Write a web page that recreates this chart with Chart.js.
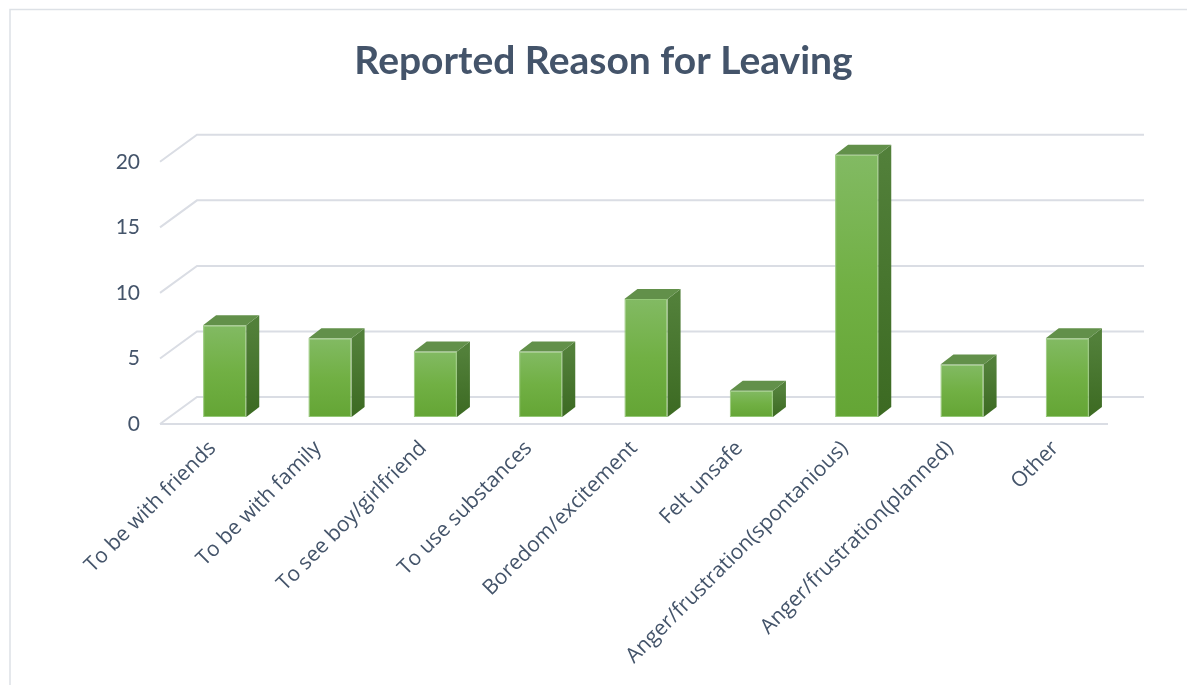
<!DOCTYPE html>
<html>
<head>
<meta charset="utf-8">
<script src="https://cdn.jsdelivr.net/npm/chart.js@4.4.0/dist/chart.umd.min.js"></script>
<style>
  html, body { margin: 0; padding: 0; background: #fff; }
  #wrap { width: 1187px; height: 685px; position: relative; }
</style>
</head>
<body>
<div id="wrap"><canvas id="js--chart1" width="1187" height="685"></canvas></div>
<script>
const reasons = ['To be with friends', 'To be with family', 'To see boy/girlfriend', 'To use substances',
    'Boredom/excitement', 'Felt unsafe', 'Anger/frustration(spontanious)', 'Anger/frustration(planned)', 'Other'];
const counts = [7, 6, 5, 5, 9, 2, 20, 4, 6];
const yTicks = [0, 5, 10, 15, 20];

const txt = '#44546A'
const gridCol = '#DADDE4'
// 3d look: wall depth and where the bars sit inside it
const wallDx = 37, wallDy = -27;
const barDx = 12, barDy = -7;
const sideDx = 13, sideDy = -10;

const ctx = document.getElementById('js--chart1');

const fakeDepth = {
    id: 'fakeDepth',
    beforeDraw(chart) {
        const c = chart.ctx;
        const area = chart.chartArea;
        const y = chart.scales.y;
        c.save();
        // frame of the picture
        c.strokeStyle = '#DDE1E6';
        c.lineWidth = 1.5;
        c.beginPath();
        c.moveTo(10, 685); c.lineTo(10, 9.5); c.lineTo(1187, 9.5);
        c.stroke();
        // walls
        c.strokeStyle = gridCol;
        c.lineWidth = 2;
        yTicks.forEach(function (v) {
            const py = y.getPixelForValue(v);
            c.beginPath();
            c.moveTo(area.left, py);
            c.lineTo(area.left + wallDx, py + wallDy);
            c.lineTo(area.right + wallDx - 1, py + wallDy);
            c.stroke();
        });
        c.beginPath();
        c.moveTo(area.left, area.bottom);
        c.lineTo(area.right, area.bottom);
        c.stroke();
        c.restore();
    },
    beforeDatasetsDraw(chart) {
        chart.ctx.save();
        chart.ctx.translate(barDx, barDy);
    },
    afterDatasetsDraw(chart) {
        const c = chart.ctx;
        chart.getDatasetMeta(0).data.forEach(function (bar) {
            const l = bar.x - bar.width / 2, r = bar.x + bar.width / 2;
            const t = bar.y, b = bar.base;
            // side
            let g = c.createLinearGradient(0, t, 0, b);
            g.addColorStop(0, '#52803A');
            g.addColorStop(1, '#3C6A22');
            c.fillStyle = g;
            c.beginPath();
            c.moveTo(r, t); c.lineTo(r + sideDx, t + sideDy);
            c.lineTo(r + sideDx, b + sideDy); c.lineTo(r, b);
            c.closePath(); c.fill();
            // top
            c.fillStyle = '#62904A';
            c.beginPath();
            c.moveTo(l, t); c.lineTo(l + sideDx, t + sideDy);
            c.lineTo(r + sideDx, t + sideDy); c.lineTo(r, t);
            c.closePath(); c.fill();
        });
        c.restore();
    }
};

new Chart(ctx, {
    type: 'bar',
    data: {
        labels: reasons,
        datasets: [{
            label: 'Reason',
            data: counts,
            backgroundColor: function (context) {
                const chart = context.chart;
                if (!chart.chartArea) return '#70AD47';
                const ys = chart.scales.y;
                const top = ys.getPixelForValue(context.raw);
                const bot = ys.getPixelForValue(0);
                const g = chart.ctx.createLinearGradient(0, top, 0, bot);
                g.addColorStop(0, '#82BA63');
                g.addColorStop(0.5, '#71B044');
                g.addColorStop(1, '#64A535');
                return g;
            },
            borderColor: '#95C878',
            borderWidth: 1,
            borderSkipped: false,
            barPercentage: 0.41,
            categoryPercentage: 1
        }]
    },
    options: {
        responsive: false,
        animation: false,
        layout: { padding: { left: 20, right: 0, top: 0, bottom: 0 } },
        plugins: {
            legend: { display: false },
            tooltip: { enabled: false },
            title: {
                display: true,
                text: 'Reported Reason for Leaving',
                color: txt,
                font: { family: 'Lato', size: 39, weight: 'bold' },
                padding: { top: 38, bottom: 77 }
            }
        },
        scales: {
            x: {
                grid: { display: false, drawTicks: false },
                border: { display: false },
                ticks: {
                    color: txt,
                    font: { family: "'Open Sans', Lato, sans-serif", size: 21 },
                    minRotation: 45,
                    maxRotation: 45,
                    padding: 12,
                    autoSkip: false
                },
                afterFit: function (scale) { scale.height = 261; }
            },
            y: {
                min: 0,
                max: 20,
                grid: { display: false, drawTicks: false },
                border: { display: false },
                ticks: {
                    stepSize: 5,
                    color: txt,
                    font: { family: 'Lato', size: 21 },
                    padding: 20
                },
                afterFit: function (scale) { scale.width = 140; }
            },
            // empty right strip so the title centres like the original
            side: {
                position: 'right',
                min: 0,
                max: 20,
                grid: { display: false, drawTicks: false },
                border: { display: false },
                ticks: { display: false },
                afterFit: function (scale) { scale.width = 79; }
            }
        }
    },
    plugins: [fakeDepth]
});
</script>
</body>
</html>
